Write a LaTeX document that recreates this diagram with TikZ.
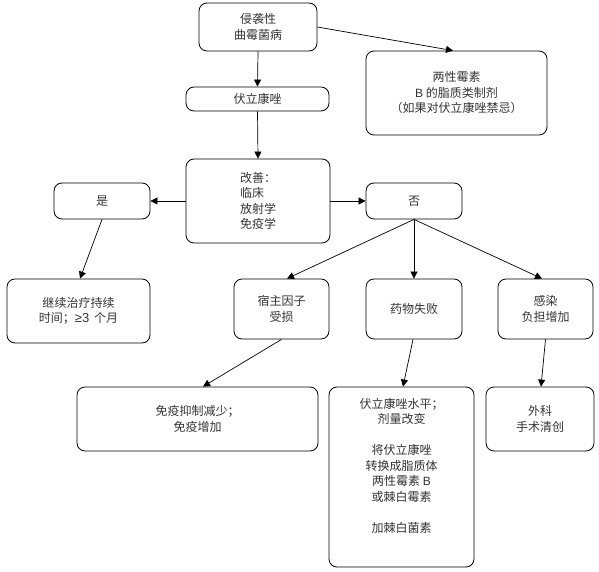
\documentclass[tikz,border=0pt]{standalone}
\usepackage{fontspec}
\setmainfont{Noto Sans CJK SC}
\newfontfamily\lat{Liberation Sans}
\usetikzlibrary{arrows.meta}
\begin{document}
\begin{tikzpicture}[x=1pt,y=-1pt,
  box/.style={draw, rounded corners=8pt, line width=0.8pt, align=center, inner sep=0pt,
    font=\fontsize{12}{15.5}\selectfont, text=black!80},
  txt/.style={align=center, inner sep=0pt, font=\fontsize{12}{15.5}\selectfont, text=black!80},
  arr/.style={-{Triangle[length=7pt,width=7pt]}, line width=0.7pt}]
\useasboundingbox (0,0) rectangle (599,572);
\node[box, minimum width=118pt, minimum height=48pt] (ia) at (258,27) {侵袭性\\曲霉菌病};
\node[box, minimum width=181pt, minimum height=84pt] (amb) at (456.5,93) {两性霉素\\{\lat B} 的脂质类制剂\\（如果对伏立康唑禁忌）};
\node[box, minimum width=143pt, minimum height=24pt] (vori) at (257.5,99) {伏立康唑};
\node[box, align=left, minimum width=144pt, minimum height=84pt] (imp) at (258,201) {改善：\\临床\\放射学\\免疫学};
\node[box, minimum width=96pt, minimum height=36pt] (yes) at (102,201) {是};
\node[box, minimum width=96pt, minimum height=36pt] (no) at (414,201) {否};
\node[box, minimum width=143pt, minimum height=64pt] (cont) at (78.5,311) {继续治疗持续\\时间；{\lat\fontsize{13}{15.5}\selectfont ≥3}\, 个月};
\node[box, minimum width=95pt, minimum height=60pt] (host) at (281.5,309) {宿主因子\\受损};
\node[box, minimum width=96pt, minimum height=60pt] (drug) at (414,309) {药物失败};
\node[box, minimum width=95pt, minimum height=60pt] (inf) at (545.5,309) {感染\\负担增加};
\node[box, minimum width=241pt, minimum height=64pt] (immu) at (197.5,419) {免疫抑制减少；\\免疫增加};
\node[box, minimum width=145pt, minimum height=180pt] (vlev) at (401.5,477) {};
\node[txt, anchor=north] (vlevt) at (401.5,398) {伏立康唑水平；\\剂量改变\\[15.5pt]将伏立康唑\\转换成脂质体\\两性霉素 {\lat B}\\或棘白霉素\\[15.5pt]加棘白菌素};
\node[box, minimum width=108pt, minimum height=64pt] (surg) at (540,419) {外科\\手术清创};
\draw[arr] (ia.south) -- (vori.north);
\draw[arr] (ia.east) -- ([xshift=-3.5pt]amb.north);
\draw[arr] (vori.south) -- (imp.north);
\draw[arr] (imp.west) -- (yes.east);
\draw[arr] (imp.east) -- (no.west);
\draw[arr] (yes.south) -- ([xshift=1.5pt]cont.north);
\draw[arr] (no.south) -- ([xshift=5.5pt]host.north);
\draw[arr] (no.south) -- (drug.north);
\draw[arr] (no.south) -- ([xshift=-3.5pt]inf.north);
\draw[arr] (host.south) -- ([xshift=5.5pt]immu.north);
\draw[arr] ([xshift=-1pt]drug.south) -- ([xshift=1.5pt]vlev.north);
\draw[arr] (inf.south) -- ([xshift=1pt]surg.north);
\end{tikzpicture}
\end{document}
